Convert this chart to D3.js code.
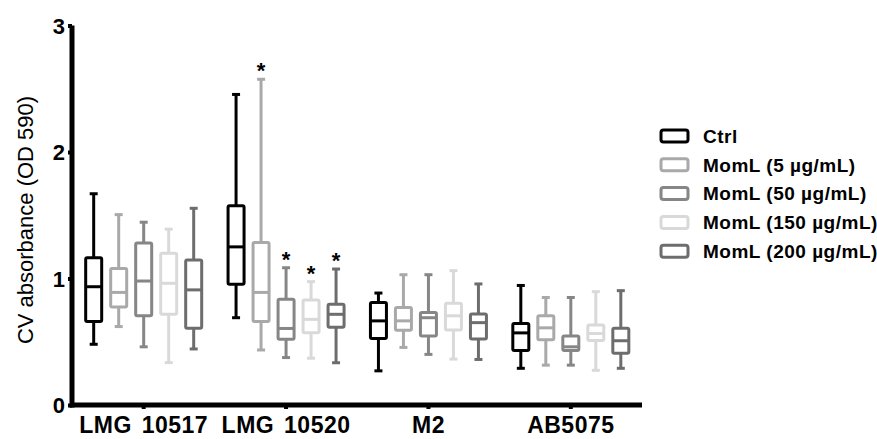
<!DOCTYPE html>
<html>
<head>
<meta charset="utf-8">
<script src="https://cdnjs.cloudflare.com/ajax/libs/d3/7.8.5/d3.min.js"></script>
<style>
  body { margin: 0; background: #fff; }
  text { font-family: "Liberation Sans", Arial, sans-serif; }
</style>
</head>
<body>
<div id="chart"></div>
<script>
// strains on the x axis
var groups = ["LMG 10517", "LMG 10520", "M2", "AB5075"];
var series = ["Ctrl", "MomL (5 µg/mL)", "MomL (50 µg/mL)", "MomL (150 µg/mL)", "MomL (200 µg/mL)"];
var yTicks = [0, 1, 2, 3];

// [min, q1, median, q3, max] per strain
var ctrl    = [[0.48, 0.66, 0.935, 1.165, 1.67], [0.69, 0.955, 1.25, 1.575, 2.455], [0.27, 0.525, 0.665, 0.81, 0.885], [0.29, 0.43, 0.57, 0.645, 0.945]];
var moml5   = [[0.62, 0.775, 0.89, 1.08, 1.505], [0.435, 0.66, 0.89, 1.285, 2.575], [0.455, 0.59, 0.665, 0.77, 1.03], [0.315, 0.515, 0.61, 0.705, 0.85]];
var moml50  = [[0.46, 0.705, 0.98, 1.28, 1.445], [0.375, 0.52, 0.605, 0.835, 1.085], [0.4, 0.545, 0.69, 0.732, 1.03], [0.315, 0.43, 0.46, 0.545, 0.85]];
var moml150 = [[0.335, 0.717, 0.962, 1.2, 1.39], [0.37, 0.572, 0.677, 0.83, 0.975], [0.363, 0.592, 0.705, 0.805, 1.062], [0.274, 0.51, 0.565, 0.632, 0.896]];
var moml200 = [[0.443, 0.606, 0.91, 1.146, 1.555], [0.334, 0.614, 0.717, 0.796, 1.075], [0.36, 0.522, 0.651, 0.719, 0.957], [0.29, 0.41, 0.508, 0.606, 0.904]];
var colors  = ["#000000", "#a9a9a9", "#868686", "#d9d9d9", "#6d6d6d"];

// significance stars: [strain, series]
var stars = [["LMG 10520", 1], ["LMG 10520", 2], ["LMG 10520", 3], ["LMG 10520", 4]];

function init() {
    var w = 877, h = 439;
    var allStats = [ctrl, moml5, moml50, moml150, moml200];

    var svg = d3.select("#chart").append("svg")
        .attr("width", w)
        .attr("height", h);

    var y = d3.scaleLinear().domain([0, 3]).range([405, 25.5]);
    var x = d3.scaleBand().domain(groups).range([72.5, 642]);
    var xi = d3.scalePoint().domain(d3.range(series.length)).range([-50, 50]);
    var bw = 16;

    // boxes
    var rows = [];
    allStats.forEach(function(st, s) {
        st.forEach(function(v, g) {
            rows.push({g: groups[g], s: s, v: v});
        });
    });

    var box = svg.selectAll("g.box")
        .data(rows)
        .enter()
        .append("g")
        .attr("class", "box")
        .attr("transform", function(d) {
            return "translate(" + (x(d.g) + x.bandwidth() / 2 + xi(d.s)) + ",0)";
        })
        .style("stroke", function(d) { return colors[d.s]; })
        .style("fill", "none")
        .style("stroke-width", 3);

    box.append("line")
       .attr("y1", function(d) { return y(d.v[4]); })
       .attr("y2", function(d) { return y(d.v[3]); });
    box.append("line")
       .attr("y1", function(d) { return y(d.v[1]); })
       .attr("y2", function(d) { return y(d.v[0]); });
    box.append("line")
       .attr("x1", -4).attr("x2", 4)
       .attr("y1", function(d) { return y(d.v[4]); })
       .attr("y2", function(d) { return y(d.v[4]); });
    box.append("line")
       .attr("x1", -4).attr("x2", 4)
       .attr("y1", function(d) { return y(d.v[0]); })
       .attr("y2", function(d) { return y(d.v[0]); });
    box.append("rect")
       .attr("x", -bw / 2)
       .attr("width", bw)
       .attr("rx", 1.5)
       .attr("y", function(d) { return y(d.v[3]); })
       .attr("height", function(d) { return y(d.v[1]) - y(d.v[3]); })
       .style("fill", "#fff");
    box.append("line")
       .attr("x1", -bw / 2).attr("x2", bw / 2)
       .attr("y1", function(d) { return y(d.v[2]); })
       .attr("y2", function(d) { return y(d.v[2]); });

    // stars
    svg.selectAll("text.star")
       .data(stars)
       .enter()
       .append("text")
       .attr("class", "star")
       .attr("x", function(d) { return x(d[0]) + x.bandwidth() / 2 + xi(d[1]); })
       .attr("y", function(d) { return y(allStats[d[1]][groups.indexOf(d[0])][4]) - 1; })
       .attr("text-anchor", "middle")
       .style("font-size", "22px")
       .style("font-weight", "bold")
       .text("*");

    // axes
    var yAxis = svg.append("g")
        .attr("transform", "translate(72,0)")
        .call(d3.axisLeft(y).tickValues(yTicks).tickFormat(d3.format("d")).tickSize(4).tickPadding(3));
    yAxis.select(".domain").attr("d", "M0," + (y(0) + 2.5) + "V" + y(3)).style("stroke-width", 5);
    yAxis.selectAll(".tick line").style("stroke-width", 4);
    yAxis.selectAll("text").style("font-size", "22px").style("font-weight", "bold").attr("dy", "0.36em");

    var xAxis = svg.append("g")
        .attr("transform", "translate(0," + y(0) + ")")
        .call(d3.axisBottom(x).tickSize(4).tickPadding(8));
    xAxis.select(".domain").attr("d", "M70," + 0 + "H642").style("stroke-width", 5);
    xAxis.selectAll(".tick line").style("stroke-width", 4);
    xAxis.selectAll("text")
         .style("font-size", "23px")
         .style("font-weight", "bold")
         .style("letter-spacing", "0.5px")
         .style("word-spacing", "3px");

    svg.append("text")
       .attr("transform", "translate(33,220) rotate(-90)")
       .attr("text-anchor", "middle")
       .style("font-size", "22px")
       .text("CV absorbance (OD 590)");

    // legend
    var legend = svg.selectAll("g.legend")
        .data(series)
        .enter()
        .append("g")
        .attr("class", "legend")
        .attr("transform", function(d, i) { return "translate(661," + (136 + i * 28.8) + ")"; });
    legend.append("rect")
          .attr("x", 0).attr("y", -6)
          .attr("width", 27).attr("height", 12)
          .attr("rx", 2.5)
          .style("fill", "none")
          .style("stroke", function(d, i) { return colors[i]; })
          .style("stroke-width", 3);
    legend.append("text")
          .attr("x", 42)
          .attr("dy", "0.36em")
          .style("font-size", "19px")
          .style("font-weight", "bold")
          .style("letter-spacing", "0.5px")
          .text(function(d) { return d; });
}

window.onload = init;
</script>
</body>
</html>
